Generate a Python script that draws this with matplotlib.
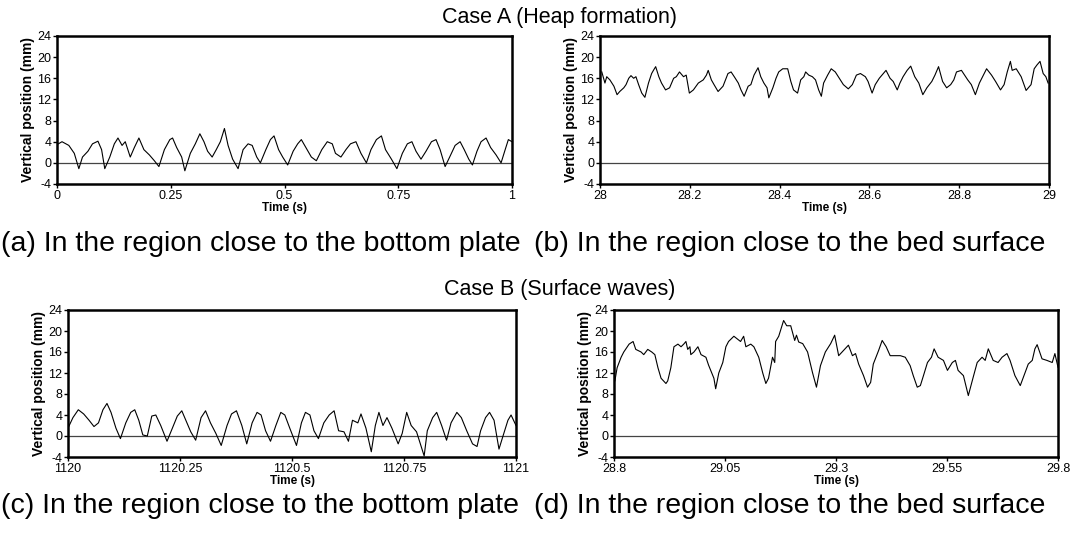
import matplotlib
matplotlib.use('Agg')
import matplotlib.pyplot as plt
import numpy as np

# Figure size in pixels
W, H = 1074, 534

plt.rcParams['font.family'] = ['Liberation Sans', 'DejaVu Sans']
tick_font = ['Liberation Sans Narrow', 'Liberation Sans', 'DejaVu Sans']

# ---- Case A, bottom plate (time offsets from 0 s, position in mm) ----
a_start = 0.0
a_t = [0.003, 0.011, 0.026, 0.038, 0.048, 0.056, 0.068, 0.078, 0.090, 0.098,
       0.105, 0.116, 0.126, 0.134, 0.143, 0.150, 0.161, 0.170, 0.180, 0.191,
       0.203, 0.214, 0.224, 0.236, 0.248, 0.254, 0.263, 0.274, 0.281, 0.293,
       0.304, 0.314, 0.323, 0.331, 0.341, 0.350, 0.359, 0.368, 0.376, 0.386,
       0.398, 0.409, 0.420, 0.429, 0.439, 0.447, 0.459, 0.469, 0.477, 0.487,
       0.496, 0.507, 0.519, 0.529, 0.537, 0.547, 0.559, 0.570, 0.582, 0.594,
       0.605, 0.612, 0.624, 0.635, 0.645, 0.657, 0.668, 0.680, 0.690, 0.702,
       0.713, 0.722, 0.735, 0.747, 0.759, 0.770, 0.780, 0.789, 0.800, 0.811,
       0.823, 0.833, 0.842, 0.853, 0.863, 0.875, 0.886, 0.895, 0.905, 0.913,
       0.923, 0.932, 0.943, 0.953, 0.965, 0.976, 0.985, 0.992, 1.000]
a_pos = [3.6, 4.0, 3.3, 1.8, -1.1, 1.1, 2.2, 3.6, 4.1, 2.5,
         -1.1, 1.1, 3.6, 4.7, 3.3, 4.0, 1.1, 2.9, 4.7, 2.5,
         1.5, 0.4, -0.7, 2.5, 4.4, 4.7, 2.9, 1.1, -1.5, 1.8,
         3.6, 5.5, 4.0, 2.2, 1.1, 2.5, 4.0, 6.5, 3.3, 0.7,
         -1.1, 2.5, 3.6, 3.3, 1.1, 0.0, 2.5, 4.4, 5.1, 2.5,
         1.1, -0.4, 2.2, 3.6, 4.4, 2.9, 1.1, 0.4, 2.5, 4.0,
         3.6, 1.8, 1.1, 2.5, 3.6, 4.0, 1.8, 0.0, 2.5, 4.4,
         5.1, 2.5, 0.7, -1.1, 1.8, 3.6, 4.0, 2.2, 0.7, 2.2,
         4.0, 4.4, 2.5, -0.7, 1.1, 3.3, 4.0, 2.5, 0.7, -0.4,
         2.2, 4.0, 4.7, 2.9, 1.5, 0.0, 2.5, 4.4, 4.0]

# ---- Case A, bed surface (offsets from 28 s) ----
b_start = 28.0
b_t = [0.004, 0.011, 0.015, 0.022, 0.031, 0.038, 0.044, 0.053, 0.058, 0.064,
       0.069, 0.075, 0.080, 0.086, 0.093, 0.100, 0.108, 0.115, 0.119, 0.124,
       0.131, 0.137, 0.146, 0.155, 0.164, 0.170, 0.177, 0.186, 0.192, 0.199,
       0.208, 0.219, 0.230, 0.237, 0.241, 0.248, 0.254, 0.263, 0.274, 0.285,
       0.292, 0.299, 0.308, 0.314, 0.321, 0.330, 0.336, 0.343, 0.352, 0.358,
       0.365, 0.372, 0.376, 0.385, 0.392, 0.398, 0.407,
       0.418, 0.425, 0.431, 0.440, 0.447, 0.454, 0.458, 0.465, 0.473, 0.480,
       0.487, 0.493, 0.498, 0.507, 0.515, 0.524, 0.533, 0.542, 0.553, 0.562,
       0.571, 0.580, 0.591, 0.597, 0.606, 0.613, 0.622, 0.631, 0.637, 0.646,
       0.653, 0.662, 0.668, 0.675, 0.684, 0.692, 0.701, 0.710, 0.719, 0.728,
       0.739, 0.746, 0.754, 0.763, 0.772, 0.781, 0.788, 0.794, 0.805, 0.812,
       0.819, 0.827, 0.836, 0.845, 0.852, 0.861, 0.872, 0.881, 0.892, 0.900,
       0.907, 0.914, 0.918, 0.927, 0.938, 0.949, 0.960, 0.967, 0.973, 0.980,
       0.987, 0.993, 0.998]
b_pos = [17.2, 15.1, 16.3, 15.7, 14.5, 12.9, 13.5, 14.2, 14.8, 16.0,
         16.5, 16.0, 16.3, 14.8, 13.2, 12.4, 15.1, 16.9, 17.5, 18.2,
         16.3, 15.1, 13.8, 14.2, 16.0, 16.3, 17.2, 16.3, 16.6, 13.2,
         13.8, 15.1, 15.7, 16.6, 17.5, 15.7, 14.8, 13.5, 14.5, 16.9,
         17.2, 16.3, 15.1, 13.8, 12.6, 14.5, 14.8, 16.6, 18.0, 16.3,
         15.1, 14.2, 12.3, 14.2, 16.0, 17.2, 17.8,
         17.8, 15.4, 13.8, 13.2, 15.7, 16.3, 17.2, 16.6, 16.3, 15.7,
         13.8, 12.6, 15.1, 16.6, 17.8, 17.2, 16.0, 14.8, 14.0, 14.8,
         16.6, 16.9, 16.3, 15.4, 13.2, 14.8, 16.0, 16.9, 17.5, 16.0,
         15.4, 13.8, 15.1, 16.3, 17.5, 18.3, 16.3, 15.1, 12.9, 14.2,
         15.4, 16.6, 18.2, 15.4, 14.2, 14.8, 15.7, 17.2, 17.5, 16.6,
         15.7, 14.8, 12.9, 15.1, 16.3, 17.8, 16.6, 15.4, 13.8, 14.8,
         17.2, 19.2, 17.5, 17.8, 16.3, 13.7, 14.8, 17.8, 18.5, 19.2,
         16.9, 16.3, 15.1]

# ---- Case B, bottom plate (offsets from 1120 s) ----
c_start = 1120.0
c_t = [0.000, 0.011, 0.023, 0.035, 0.047, 0.058, 0.068, 0.078, 0.087, 0.096,
       0.107, 0.117, 0.129, 0.140, 0.149, 0.158, 0.167, 0.177, 0.187, 0.196,
       0.207, 0.221, 0.233, 0.244, 0.254, 0.263, 0.274, 0.285, 0.297, 0.307,
       0.318, 0.330, 0.342, 0.355, 0.365, 0.376, 0.388, 0.399, 0.411, 0.422,
       0.431, 0.441, 0.452, 0.464, 0.475, 0.484, 0.495, 0.510, 0.521, 0.530,
       0.540, 0.549, 0.559, 0.571, 0.583, 0.594, 0.604, 0.616, 0.626, 0.635,
       0.647, 0.654, 0.665, 0.677, 0.686, 0.694, 0.703, 0.712, 0.723, 0.737,
       0.746, 0.756, 0.766, 0.778, 0.795, 0.802, 0.814, 0.823, 0.834, 0.845,
       0.855, 0.868, 0.878, 0.890, 0.903, 0.913, 0.921, 0.932, 0.941, 0.951,
       0.962, 0.971, 0.982, 0.989, 1.000]
c_pos = [1.5, 3.5, 5.0, 4.2, 3.0, 1.8, 2.5, 5.0, 6.2, 4.5,
         1.5, -0.5, 2.5, 4.5, 5.0, 3.0, 0.2, 0.0, 3.8, 4.0,
         2.0, -1.0, 1.5, 3.8, 4.8, 3.0, 0.8, -0.8, 3.5, 4.8,
         2.5, 0.5, -1.8, 2.0, 4.2, 4.8, 2.0, -1.5, 2.5, 4.5,
         4.0, 1.0, -1.0, 2.0, 4.5, 4.0, 1.5, -1.8, 2.5, 4.5,
         4.0, 1.0, -0.5, 2.5, 4.0, 4.8, 1.0, 0.8, -1.0, 3.0,
         2.5, 4.2, 1.5, -3.0, 2.0, 4.5, 2.0, 3.5, 1.5, -1.5,
         0.5, 4.5, 2.0, 0.8, -3.8, 1.0, 3.5, 4.5, 2.0, -0.8,
         2.5, 4.5, 3.5, 1.0, -1.5, -2.0, 1.0, 3.5, 4.5, 3.0,
         -2.5, 0.0, 3.0, 4.0, 2.0]

# ---- Case B, bed surface (offsets from 28.8 s) ----
d_start = 28.8
d_t = [0.002, 0.007, 0.016, 0.022, 0.034, 0.043, 0.049, 0.061, 0.067, 0.076,
       0.085, 0.092, 0.099, 0.106, 0.117, 0.121, 0.128, 0.135, 0.144, 0.151,
       0.157, 0.162, 0.166, 0.171, 0.173, 0.180, 0.189, 0.196, 0.207, 0.213,
       0.225, 0.229, 0.236, 0.245, 0.252, 0.258, 0.270, 0.285, 0.292, 0.297,
       0.308, 0.315, 0.326, 0.335, 0.342, 0.348, 0.357, 0.362, 0.364, 0.371,
       0.382, 0.389, 0.398, 0.407, 0.411, 0.416, 0.425, 0.436, 0.447, 0.456,
       0.465, 0.476, 0.488, 0.497, 0.506, 0.517, 0.528, 0.537, 0.544, 0.551,
       0.562, 0.571, 0.578, 0.584, 0.596, 0.604, 0.613, 0.622, 0.634, 0.645,
       0.656, 0.667, 0.674, 0.683, 0.690, 0.697, 0.706, 0.715, 0.721, 0.730,
       0.742, 0.751, 0.762, 0.769, 0.775, 0.787, 0.798, 0.809, 0.818, 0.829,
       0.836, 0.843, 0.854, 0.865, 0.874, 0.885, 0.892, 0.903, 0.915, 0.926,
       0.933, 0.942, 0.948, 0.953, 0.964, 0.975, 0.987, 0.993, 1.000]
d_pos = [10.5, 13.0, 15.0, 16.0, 17.5, 18.0, 16.5, 16.0, 15.5, 16.5,
         16.0, 15.5, 13.0, 11.0, 10.0, 10.5, 13.0, 17.0, 17.5, 17.0,
         17.5, 18.0, 16.5, 17.0, 15.5, 16.0, 17.0, 15.5, 15.0, 13.5,
         11.0, 9.0, 12.0, 14.0, 17.0, 18.0, 19.0, 18.0, 19.0, 17.0,
         17.5, 17.0, 15.0, 12.0, 10.0, 11.0, 15.0, 14.0, 18.0, 19.0,
         22.0, 21.0, 21.0, 18.2, 19.2, 17.9, 17.6, 16.0, 12.1, 9.3,
         13.4, 16.0, 17.6, 19.2, 15.3, 16.3, 17.3, 15.3, 15.7, 13.7,
         11.5, 9.3, 10.2, 13.7, 16.3, 18.2, 17.0, 15.3, 15.3, 15.3,
         15.0, 13.4, 11.5, 9.3, 9.6, 11.5, 14.0, 15.0, 16.6, 15.0,
         14.4, 12.5, 14.0, 14.4, 12.5, 11.5, 7.7, 11.2, 14.0, 15.0,
         14.4, 16.6, 14.4, 14.0, 15.0, 15.7, 14.4, 11.5, 9.6, 12.1,
         13.7, 14.4, 16.6, 17.4, 14.7, 14.4, 14.0, 15.7, 13.1]

y_ticks = [-4, 0, 4, 8, 12, 16, 20, 24]
a_ticks = ['0', '0.25', '0.5', '0.75', '1']
b_ticks = ['28', '28.2', '28.4', '28.6', '28.8', '29']
c_ticks = ['1120', '1120.25', '1120.5', '1120.75', '1121']
d_ticks = ['28.8', '29.05', '29.3', '29.55', '29.8']

captions = ['(a) In the region close to the bottom plate',
            '(b) In the region close to the bed surface',
            '(c) In the region close to the bottom plate',
            '(d) In the region close to the bed surface']
titles = ['Case A (Heap formation)', 'Case B (Surface waves)']


def rect(l, r, t, b):
    return [l / W, 1 - b / H, (r - l) / W, (b - t) / H]


def panel(box, start, t, pos, ticks):
    ax = fig.add_axes(rect(*box))
    x = start + np.array(t)
    ax.plot(x, pos, color='black', lw=0.8)
    ax.axhline(0, color='#444444', lw=0.9, zorder=1)
    tv = [float(s) for s in ticks]
    ax.set_xlim(tv[0], tv[-1])
    ax.set_ylim(-4, 24)
    ax.set_xticks(tv)
    ax.set_xticklabels(ticks)
    ax.set_yticks(y_ticks)
    ax.set_yticklabels([str(v) for v in y_ticks])
    ax.tick_params(direction='out', length=3, width=1, pad=1, labelsize=9)
    for lab in ax.get_xticklabels() + ax.get_yticklabels():
        lab.set_family(tick_font)
    for sp in ax.spines.values():
        sp.set_linewidth(1.8)
    ax.set_xlabel('Time (s)', fontsize=8.5, fontweight='bold', labelpad=0,
                  family=tick_font)
    ax.set_ylabel('Vertical position (mm)', fontsize=10, fontweight='bold',
                  labelpad=2, family=tick_font)
    return ax


fig = plt.figure(figsize=(W / 100, H / 100), dpi=100)

panel((57, 512, 36, 184), a_start, a_t, a_pos, a_ticks)
panel((600, 1049, 36, 184), b_start, b_t, b_pos, b_ticks)
panel((68, 516, 310, 457), c_start, c_t, c_pos, c_ticks)
panel((614, 1058, 310, 457), d_start, d_t, d_pos, d_ticks)

fig.text(560 / W, 1 - 18 / H, titles[0], ha='center', va='center', fontsize=15.5)
fig.text(560 / W, 1 - 290 / H, titles[1], ha='center', va='center', fontsize=15.5)

fig.text(1 / W, 1 - 244 / H, captions[0], ha='left', va='center', fontsize=20.5)
fig.text(534 / W, 1 - 244 / H, captions[1], ha='left', va='center', fontsize=20.5)
fig.text(1 / W, 1 - 506 / H, captions[2], ha='left', va='center', fontsize=20.5)
fig.text(534 / W, 1 - 506 / H, captions[3], ha='left', va='center', fontsize=20.5)

fig.savefig('out.png', dpi=100, facecolor='white')
